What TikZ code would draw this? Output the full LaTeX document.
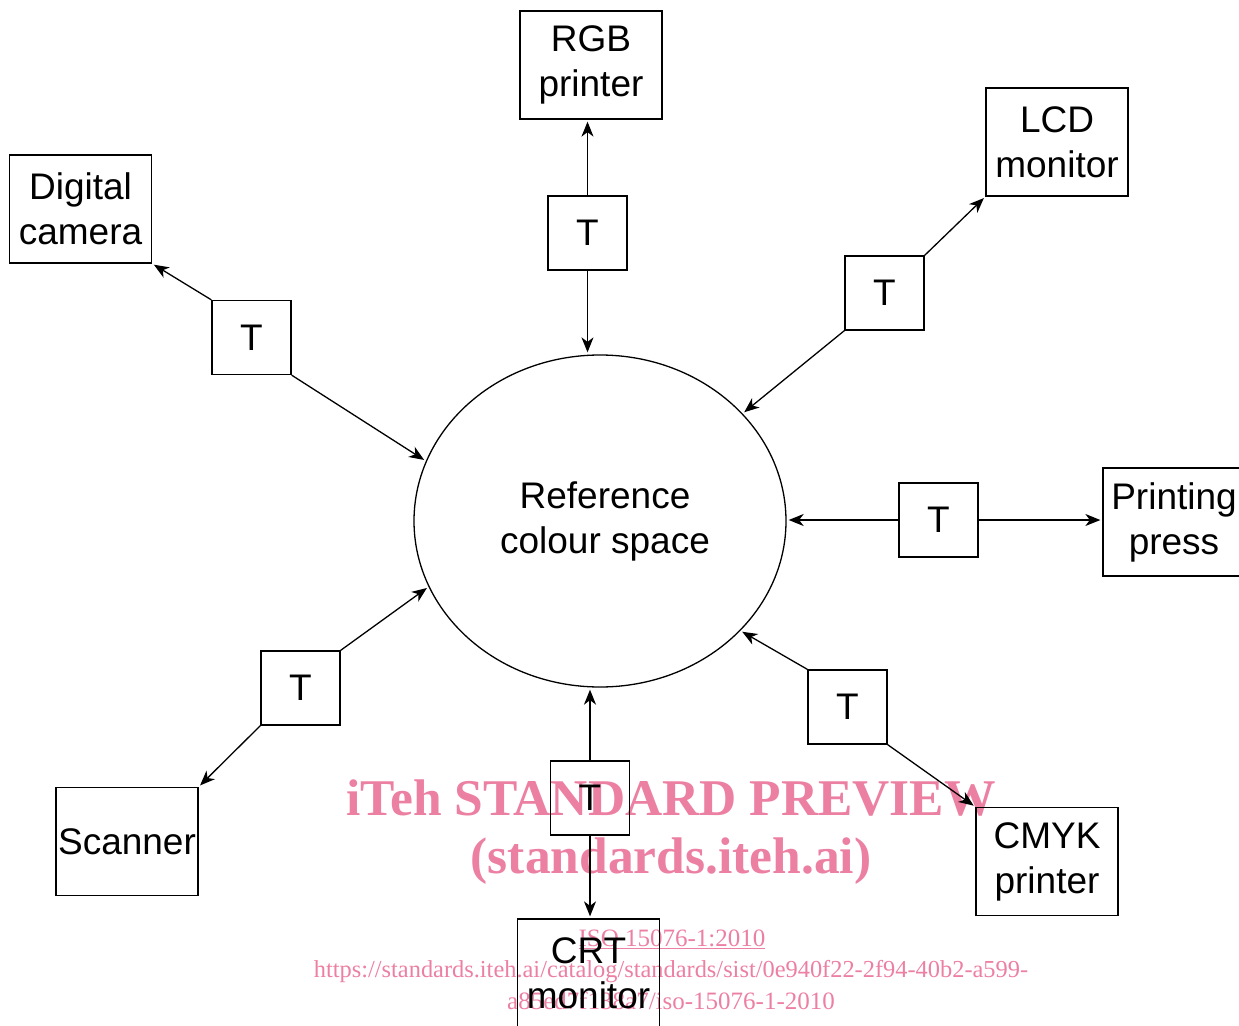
\documentclass[tikz,border=0pt]{standalone}
\usepackage{fontspec}
\setmainfont{Liberation Sans}
\newfontfamily\wmfont{Liberation Serif}
\usetikzlibrary{arrows.meta,positioning,calc,shapes.geometric}
\definecolor{wmpink}{RGB}{236,128,162}

\begin{document}
\begin{tikzpicture}[x=1pt,y=-1pt,line width=1.3pt,
	font=\fontsize{37}{45}\selectfont,
	tbox/.style={draw,minimum width=79pt,minimum height=74pt,inner sep=0pt},
	devbox/.style={draw,minimum width=142pt,minimum height=108pt,inner sep=0pt,align=center},
	conn/.style={-{Stealth[length=15pt,width=12pt,inset=4.5pt]},shorten >=2pt},
	wm/.style={text=wmpink,inner sep=0pt,anchor=base}]
	\path[use as bounding box,clip] (0,0) rectangle (1239,1025);
	% watermark, under the drawing
	\node[wm,font=\wmfont\bfseries\fontsize{51.5}{50}\selectfont] (wm1) at (671,815) {iTeh STANDARD PREVIEW};
	\node[wm,font=\wmfont\bfseries\fontsize{51.5}{50}\selectfont] (wm2) at (671,873) {(standards.iteh.ai)};
	\node[wm,font=\wmfont\fontsize{25}{25}\selectfont] (wm3) at (672,946) {\underline{ISO 15076-1:2010}};
	\node[wm,font=\wmfont\fontsize{24.4}{25}\selectfont] (wm4) at (671,977) {https://standards.iteh.ai/catalog/standards/sist/0e940f22-2f94-40b2-a599-};
	\node[wm,font=\wmfont\fontsize{25}{25}\selectfont] (wm5) at (671,1009) {a85ed7f138a7/iso-15076-1-2010};
	% centre
	\node[draw,ellipse,minimum width=372pt,minimum height=332pt,inner sep=0pt,align=center] (ref) at (600,521) {\hspace*{10pt}Reference\\\hspace*{10pt}colour space};
	% devices
	\node[devbox] (rgb) at (591,65) {RGB\\printer};
	\node[devbox] (lcd) at (1057,142) {LCD\\monitor};
	\node[devbox] (camera) at (80.5,209) {Digital\\camera};
	\node[devbox] (press) at (1174,522) {Printing\\press};
	\node[devbox] (cmyk) at (1047,861.5) {CMYK\\printer};
	\node[devbox] (crt) at (588.5,973) {CRT\\monitor};
	\node[devbox] (scanner) at (127,841.5) {Scanner};
	% transforms
	\node[tbox] (trgb) at (587.5,233) {T};
	\node[tbox] (tlcd) at (884.5,293) {T};
	\node[tbox] (tcam) at (251.5,337.5) {T};
	\node[tbox] (tpress) at (938.5,520) {T};
	\node[tbox] (tcmyk) at (847.5,707) {T};
	\node[tbox] (tcrt) at (590,798) {T};
	\node[tbox] (tscan) at (300.5,688) {T};
	% to the devices
	\draw[conn] (trgb.north) -- (trgb.north |- rgb.south);
	\draw[conn] (tlcd.north east) -- (lcd.south west);
	\draw[conn] (tcam.north west) -- (camera.south east);
	\draw[conn] (tpress.east) -- (tpress.east -| press.west);
	\draw[conn] (tcmyk.south east) -- (cmyk.north west);
	\draw[conn] (tcrt.south) -- (tcrt.south |- crt.north);
	\draw[conn] (tscan.south west) -- (scanner.north east);
	% to the reference space
	\draw[conn] (trgb.south) -- (trgb.south |- ref.north);
	\draw[conn] (tlcd.south west) -- (ref.37);
	\draw[conn] (tcam.south east) -- (ref.161);
	\draw[conn] (tpress.west) -- (tpress.west -| ref.east);
	\draw[conn] (tcmyk.north west) -- (ref.-38);
	\draw[conn] (tcrt.north) -- (tcrt.north |- ref.south);
	\draw[conn] (tscan.north east) -- (ref.201);
\end{tikzpicture}
\end{document}
